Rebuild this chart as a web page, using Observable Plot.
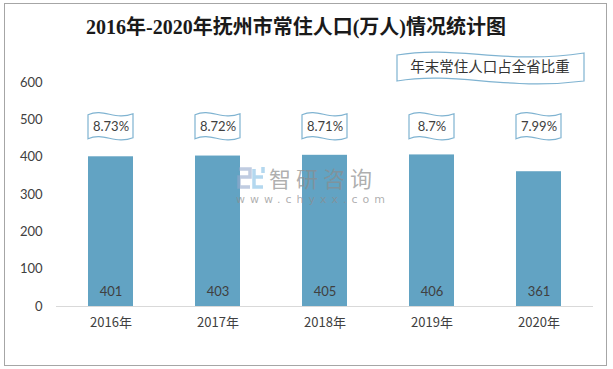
<!DOCTYPE html>
<html><head><meta charset="utf-8">
<script src="https://cdn.jsdelivr.net/npm/d3@7"></script>
<script src="https://cdn.jsdelivr.net/npm/@observablehq/plot@0.6"></script>
<style>
body{margin:0;background:#fff;}
#wrap{position:relative;width:613px;height:369px;overflow:hidden;font-family:Lato,"Noto Sans CJK SC",sans-serif;}
#frame{position:absolute;left:4px;top:3px;width:603px;height:363px;border:1px solid #a6a6a6;box-sizing:border-box;}
#title{position:absolute;left:0;top:12px;width:592px;text-align:center;font-family:"Liberation Serif","Noto Sans CJK SC",serif;font-weight:bold;font-size:20px;color:#1a1a1a;line-height:30px;}
#chart{position:absolute;left:0;top:0;}
#legend{position:absolute;left:396px;top:49px;width:190px;height:36px;}
#legend span{position:absolute;left:0;top:7px;width:188px;text-align:center;font-size:14.5px;color:#333;font-family:"Noto Sans CJK SC",sans-serif;line-height:20px;}
#wm{position:absolute;left:236px;top:162px;color:rgba(140,140,140,0.7);pointer-events:none;z-index:5;}
#wm .a{position:absolute;left:33px;top:4px;font-size:22px;letter-spacing:5px;white-space:nowrap;font-family:"Noto Sans CJK SC",sans-serif;line-height:22px;}
#wm .b{position:absolute;left:0px;top:32px;font-size:11px;letter-spacing:5px;white-space:nowrap;font-family:"DejaVu Sans",sans-serif;line-height:11px;}
</style></head>
<body>
<div id="wrap">
  <div id="frame"></div>
  <div id="chart"></div>
  <div id="title"></div>
  <div id="legend"><svg width="190" height="36"><path d="M1,6 C60,-4 110,16 188,4 L188,32 C110,42 60,22 1,32 Z" fill="#fff" stroke="#7fb3d1" stroke-width="1.2"/></svg><span></span></div>
  <div id="wm"><svg width="30" height="28" style="position:absolute;left:0;top:3px"><path d="M3,4 H14 V12 H3 V22 H14" fill="none" stroke="rgba(150,170,205,0.6)" stroke-width="3.5"/><path d="M18,4 V22 H27 M18,12 H27 M27,2 V8" fill="none" stroke="rgba(140,195,230,0.65)" stroke-width="3.5"/></svg><div class="a">智研咨询</div><div class="b">www.chyxx.com</div></div>
</div>
<script>
const titleText = "2016年-2020年抚州市常住人口(万人)情况统计图";
const legendText = "年末常住人口占全省比重";
const years = ["2016年", "2017年", "2018年", "2019年", "2020年"];
const population = [401, 403, 405, 406, 361];
const shares = ["8.73%", "8.72%", "8.71%", "8.7%", "7.99%"];
const yTicks = [0, 100, 200, 300, 400, 500, 600];
const flagLevel = 480;

document.getElementById("title").textContent = titleText;
document.querySelector("#legend span").textContent = legendText;

const data = years.map((y, i) => ({year: y, pop: population[i], share: shares[i]}));

function flags(index, scales) {
  const g = d3.create("svg:g");
  const bw = typeof scales.x.bandwidth === "function" ? scales.x.bandwidth() : 45;
  for (const yr of years) {
    const x0 = scales.x(yr);
    const w = bw;
    const yt = scales.y(flagLevel) - 15;
    const h = 24;
    const p = `M${x0},${yt+3} C${x0+w*0.35},${yt-4} ${x0+w*0.6},${yt+9} ${x0+w},${yt+2} L${x0+w},${yt+2+h} C${x0+w*0.6},${yt+9+h} ${x0+w*0.35},${yt-4+h} ${x0},${yt+3+h} Z`;
    g.append("path").attr("d", p).attr("fill", "#fff").attr("stroke", "#7fb3d1").attr("stroke-width", 1.2);
  }
  return g.node();
}

const chart = Plot.plot({
  width: 613,
  height: 369,
  marginTop: 82,
  marginBottom: 63,
  marginLeft: 56,
  marginRight: 20,
  style: {fontFamily: 'Lato,"Noto Sans CJK SC",sans-serif', fontSize: "13px", color: "#404040", background: "transparent"},
  x: {type: "band", domain: years, paddingInner: 0.58, paddingOuter: 0.29, label: null},
  y: {domain: [0, 600], label: null},
  marks: [
    Plot.barY(data, {x: "year", y: "pop", fill: "#62a3c3"}),
    Plot.ruleY([0], {stroke: "#d9d9d9", strokeWidth: 1.2}),
    Plot.text(data, {x: "year", y: 0, text: d => String(d.pop), dy: -15, fill: "#404040", fontSize: 13}),
    flags,
    Plot.text(data, {x: "year", y: flagLevel, text: "share", fill: "#404040", fontSize: 13}),
    Plot.axisY({ticks: yTicks, tickSize: 0, tickPadding: 14, fontSize: 13, label: null}),
    Plot.axisX({tickSize: 0, tickPadding: 11, fontSize: 13, label: null, fontFamily: '"Noto Sans CJK SC",sans-serif'})
  ]
});
document.getElementById("chart").appendChild(chart);
</script>
</body></html>
